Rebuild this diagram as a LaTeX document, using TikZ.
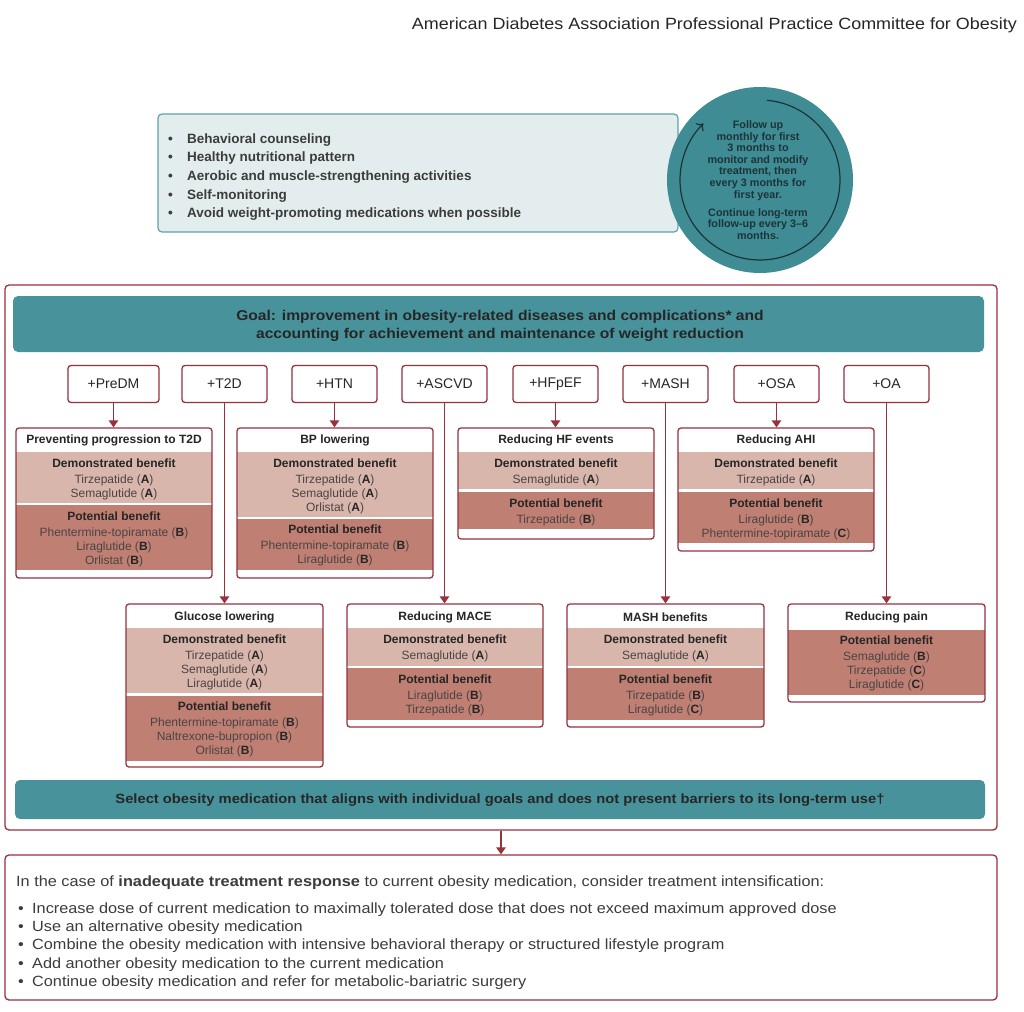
\documentclass[tikz,border=0pt]{standalone}
\usepackage{fontspec}
\setmainfont{Liberation Sans}
\newfontfamily\wide[FakeStretch=1.1]{Liberation Sans}
\usetikzlibrary{arrows.meta,fit}
\definecolor{dred}{HTML}{96323D}
\definecolor{teal1}{HTML}{48939B}
\definecolor{teal2}{HTML}{3F8C95}
\definecolor{tbox}{HTML}{E3EDED}
\definecolor{tborder}{HTML}{5FA3A9}
\definecolor{dband}{HTML}{D9B6AB}
\definecolor{pband}{HTML}{BF7F73}
\definecolor{ink}{HTML}{262626}
\definecolor{drug}{HTML}{4A4444}
\definecolor{circink}{HTML}{1C3438}
\newcommand\hd[1]{{\bfseries\color{ink}#1}}
\newcommand\lt[1]{{\bfseries\color{ink}#1}}
\newcommand\bul{\makebox[14pt][l]{•}}
\newcommand\tbul{\makebox[19pt][l]{•}}
\tikzset{
  tagbox/.style={draw=dred, line width=1.3pt, rounded corners=3pt, minimum height=37pt, minimum width=85pt, inner sep=0pt, font=\fontsize{14}{16}\selectfont, text=ink},
  rbox/.style={draw=dred, line width=1.3pt, rounded corners=3pt, inner sep=0pt},
  conn/.style={draw=dred, line width=1.3pt, -{Triangle[width=9.5pt,length=7pt]}},
  ttl/.style={font=\bfseries\fontsize{12}{14}\selectfont, text=ink, inner sep=0pt},
  bandtxt/.style={align=center, anchor=north, inner sep=0pt, font=\fontsize{12}{14}\selectfont, text=drug},
  toptxt/.style={anchor=base west, inner sep=0pt, font=\bfseries\fontsize{13.5}{16}\selectfont, text=ink!90},
  bottxt/.style={anchor=base west, inner sep=0pt, font=\wide\fontsize{14.8}{18}\selectfont, text=ink!90},
  circtxt/.style={align=center, anchor=north, inner sep=0pt, font=\bfseries\fontsize{10.8}{11.6}\selectfont, text=circink},
  bandbar/.style={fill=teal1, rounded corners=5pt, inner sep=0pt},
}
\begin{document}
\begin{tikzpicture}[x=1pt,y=-1pt]
\useasboundingbox (0,0) rectangle (1024,1011);
\fill[white] (0,0) rectangle (1024,1011);

% header
\node[anchor=base east, inner sep=0pt, font=\wide\fontsize{16.3}{18}\selectfont, text=ink] (hdr) at (1017,30) {American Diabetes Association Professional Practice Committee for Obesity};

% lifestyle box
\node[fill=tbox, draw=tborder, line width=1.2pt, rounded corners=4pt, inner sep=0pt, fit={(158,114) (678,232)}] (life) {};
\node[toptxt] (l1) at (168,144) {\tbul Behavioral counseling};
\node[toptxt] (l2) at (168,162) {\tbul Healthy nutritional pattern};
\node[toptxt] (l3) at (168,180) {\tbul Aerobic and muscle-strengthening activities};
\node[toptxt] (l4) at (168,199) {\tbul Self-monitoring};
\node[toptxt] (l5) at (168,217) {\tbul Avoid weight-promoting medications when possible};

% follow-up circle
\node[circle, fill=teal2, minimum size=186pt, inner sep=0pt] (circ) at (760,180) {};
\draw[line width=1.2pt, draw=circink, -{To[length=6pt,width=11pt]}] (circ.center) ++(-85:80) arc[start angle=-85, end angle=225, radius=80];
\node[circtxt] (c1) at (758,120.5) {Follow up\\monthly for first\\3 months to\\monitor and modify\\treatment, then\\every 3 months for\\first year.};
\node[circtxt] (c2) at (758,208) {Continue long-term\\follow-up every 3–6\\months.};

% outer frame
\node[rbox, rounded corners=4pt, fit={(5,285) (997,830)}] (outer) {};
\node[bandbar, fit={(13,296) (984,352)}] (goal) {};
\node[align=center, inner sep=0pt, font=\wide\bfseries\fontsize{14.2}{18}\selectfont, text=ink] (goaltxt) at (500,326) {Goal: improvement in obesity-related diseases and complications* and\\accounting for achievement and maintenance of weight reduction};

% tags
\node[tagbox, minimum width=91pt] (tPreDM) at (113.5,384) {+PreDM};
\node[tagbox] (tT2D) at (224.5,384) {+T2D};
\node[tagbox] (tHTN) at (334.5,384) {+HTN};
\node[tagbox] (tASCVD) at (444.5,384) {+ASCVD};
\node[tagbox] (tHFpEF) at (555.5,384) {+HFpEF};
\node[tagbox] (tMASH) at (665.5,384) {+MASH};
\node[tagbox] (tOSA) at (776.5,384) {+OSA};
\node[tagbox] (tOA) at (886.5,384) {+OA};

% ---- row 1 ----
% preventing
\fill[dband] (16,452) rectangle (212,503);
\fill[pband] (16,505) rectangle (212,570);
\node[rbox, fit={(16,428) (212,578)}] (prev) {};
\node[ttl] (prevT) at (114,440) {Preventing progression to T2D};
\node[bandtxt] (prevD) at (114,459) {\hd{Demonstrated benefit}\\[2pt]Tirzepatide (\lt{A})\\Semaglutide (\lt{A})};
\node[bandtxt] (prevP) at (114,512) {\hd{Potential benefit}\\[2pt]Phentermine-topiramate (\lt{B})\\Liraglutide (\lt{B})\\Orlistat (\lt{B})};
% bp
\fill[dband] (237,452) rectangle (433,517);
\fill[pband] (237,519) rectangle (433,570);
\node[rbox, fit={(237,428) (433,578)}] (bp) {};
\node[ttl] (bpT) at (335,440) {BP lowering};
\node[bandtxt] (bpD) at (335,459) {\hd{Demonstrated benefit}\\[2pt]Tirzepatide (\lt{A})\\Semaglutide (\lt{A})\\Orlistat (\lt{A})};
\node[bandtxt] (bpP) at (335,525) {\hd{Potential benefit}\\[2pt]Phentermine-topiramate (\lt{B})\\Liraglutide (\lt{B})};
% hf
\fill[dband] (458,452) rectangle (654,489);
\fill[pband] (458,492) rectangle (654,529);
\node[rbox, fit={(458,428) (654,539)}] (hf) {};
\node[ttl] (hfT) at (556,440) {Reducing HF events};
\node[bandtxt] (hfD) at (556,459) {\hd{Demonstrated benefit}\\[2pt]Semaglutide (\lt{A})};
\node[bandtxt] (hfP) at (556,499) {\hd{Potential benefit}\\[2pt]Tirzepatide (\lt{B})};
% ahi
\fill[dband] (678,452) rectangle (874,489);
\fill[pband] (678,492) rectangle (874,543);
\node[rbox, fit={(678,428) (874,551)}] (ahi) {};
\node[ttl] (ahiT) at (776,440) {Reducing AHI};
\node[bandtxt] (ahiD) at (776,459) {\hd{Demonstrated benefit}\\[2pt]Tirzepatide (\lt{A})};
\node[bandtxt] (ahiP) at (776,499) {\hd{Potential benefit}\\[2pt]Liraglutide (\lt{B})\\Phentermine-topiramate (\lt{C})};

% ---- row 2 ----
% glucose
\fill[dband] (126,628) rectangle (323,693);
\fill[pband] (126,696) rectangle (323,761);
\node[rbox, fit={(126,604) (323,767)}] (glu) {};
\node[ttl] (gluT) at (224.5,617) {Glucose lowering};
\node[bandtxt] (gluD) at (224.5,635) {\hd{Demonstrated benefit}\\[2pt]Tirzepatide (\lt{A})\\Semaglutide (\lt{A})\\Liraglutide (\lt{A})};
\node[bandtxt] (gluP) at (224.5,702) {\hd{Potential benefit}\\[2pt]Phentermine-topiramate (\lt{B})\\Naltrexone-bupropion (\lt{B})\\Orlistat (\lt{B})};
% mace
\fill[dband] (347,628) rectangle (543,666);
\fill[pband] (347,668) rectangle (543,720);
\node[rbox, fit={(347,604) (543,727)}] (mace) {};
\node[ttl] (maceT) at (445,617) {Reducing MACE};
\node[bandtxt] (maceD) at (445,635) {\hd{Demonstrated benefit}\\[2pt]Semaglutide (\lt{A})};
\node[bandtxt] (maceP) at (445,675) {\hd{Potential benefit}\\[2pt]Liraglutide (\lt{B})\\Tirzepatide (\lt{B})};
% mash
\fill[dband] (567,628) rectangle (764,666);
\fill[pband] (567,668) rectangle (764,720);
\node[rbox, fit={(567,604) (764,727)}] (mash) {};
\node[ttl] (mashT) at (665.5,617) {MASH benefits};
\node[bandtxt] (mashD) at (665.5,635) {\hd{Demonstrated benefit}\\[2pt]Semaglutide (\lt{A})};
\node[bandtxt] (mashP) at (665.5,675) {\hd{Potential benefit}\\[2pt]Tirzepatide (\lt{B})\\Liraglutide (\lt{C})};
% pain
\fill[pband] (788,630) rectangle (985,695);
\node[rbox, fit={(788,604) (985,702)}] (pain) {};
\node[ttl] (painT) at (886.5,617) {Reducing pain};
\node[bandtxt] (painP) at (886.5,636) {\hd{Potential benefit}\\[2pt]Semaglutide (\lt{B})\\Tirzepatide (\lt{C})\\Liraglutide (\lt{C})};

% connectors
\draw[conn] (tPreDM.south) -- (tPreDM.south |- prev.north);
\draw[conn] (tHTN.south) -- (tHTN.south |- bp.north);
\draw[conn] (tHFpEF.south) -- (tHFpEF.south |- hf.north);
\draw[conn] (tOSA.south) -- (tOSA.south |- ahi.north);
\draw[conn] (tT2D.south) -- (tT2D.south |- glu.north);
\draw[conn] (tASCVD.south) -- (tASCVD.south |- mace.north);
\draw[conn] (tMASH.south) -- (tMASH.south |- mash.north);
\draw[conn] (tOA.south) -- (tOA.south |- pain.north);

% select band
\node[bandbar, fit={(15,780) (985,819)}] (sel) {};
\node[inner sep=0pt, font=\wide\bfseries\fontsize{13.4}{16}\selectfont, text=ink] (seltxt) at (500,800) {Select obesity medication that aligns with individual goals and does not present barriers to its long-term use†};

% bottom box
\node[rbox, rounded corners=4pt, fit={(5,855) (997,1000)}] (bottom) {};
\draw[conn] (outer.south) -- (bottom.north);
\node[bottxt] (b0) at (16,886) {In the case of \textbf{inadequate treatment response} to current obesity medication, consider treatment intensification:};
\node[bottxt] (b1) at (18,913) {\bul Increase dose of current medication to maximally tolerated dose that does not exceed maximum approved dose};
\node[bottxt] (b2) at (18,931) {\bul Use an alternative obesity medication};
\node[bottxt] (b3) at (18,949) {\bul Combine the obesity medication with intensive behavioral therapy or structured lifestyle program};
\node[bottxt] (b4) at (18,968) {\bul Add another obesity medication to the current medication};
\node[bottxt] (b5) at (18,986) {\bul Continue obesity medication and refer for metabolic-bariatric surgery};
\end{tikzpicture}
\end{document}
